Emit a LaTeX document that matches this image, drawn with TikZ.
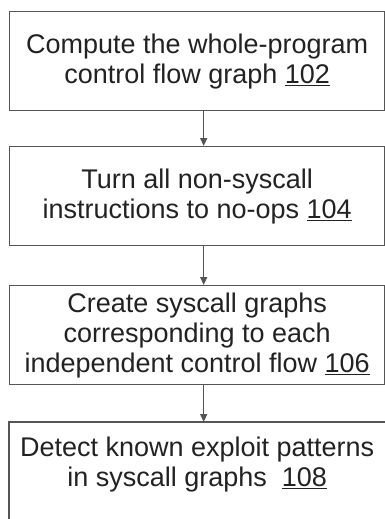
\documentclass[tikz,border=0pt]{standalone}
\usepackage{fontspec}
\setmainfont{Liberation Sans}
\usetikzlibrary{arrows.meta}
\definecolor{linegray}{HTML}{555555}
\definecolor{textdark}{HTML}{222222}
\begin{document}
\begin{tikzpicture}[x=1pt,y=1pt,
  stepbox/.style={draw=linegray, line width=1.4pt, minimum width=375pt, minimum height=99pt,
    inner sep=0pt, align=center, text=textdark,
    font=\fontsize{27}{30}\selectfont},
  arr/.style={draw=linegray, line width=1.4pt, -{Triangle[length=8pt,width=7pt]}}]
\useasboundingbox (0,0) rectangle (385,-519);
\node[stepbox, anchor=north west] (a) at (9,-11) {Compute the whole-program\\control flow graph \underline{102}};
\node[stepbox, anchor=north west] (b) at (9,-146) {Turn all non-syscall\\instructions to no-ops \underline{104}};
\node[stepbox, anchor=north west] (c) at (9,-285) {Create syscall graphs\\corresponding to each\\independent control flow \underline{106}};
\node[stepbox, draw=none, minimum height=84pt, anchor=north west] (d) at (9,-422) {Detect known exploit patterns\\in syscall graphs\ \ \underline{108}};
\draw[draw=linegray, line width=1.4pt] ([yshift=-60pt]d.south west) -- (d.north west) -- (d.north east) -- ([yshift=-60pt]d.south east);
\draw[arr] ([xshift=6.5pt]a.south) -- ([xshift=6.5pt]b.north);
\draw[arr] ([xshift=6.5pt]b.south) -- ([xshift=6.5pt]c.north);
\draw[arr] ([xshift=6.5pt]c.south) -- ([xshift=6.5pt]d.north);
\end{tikzpicture}
\end{document}
